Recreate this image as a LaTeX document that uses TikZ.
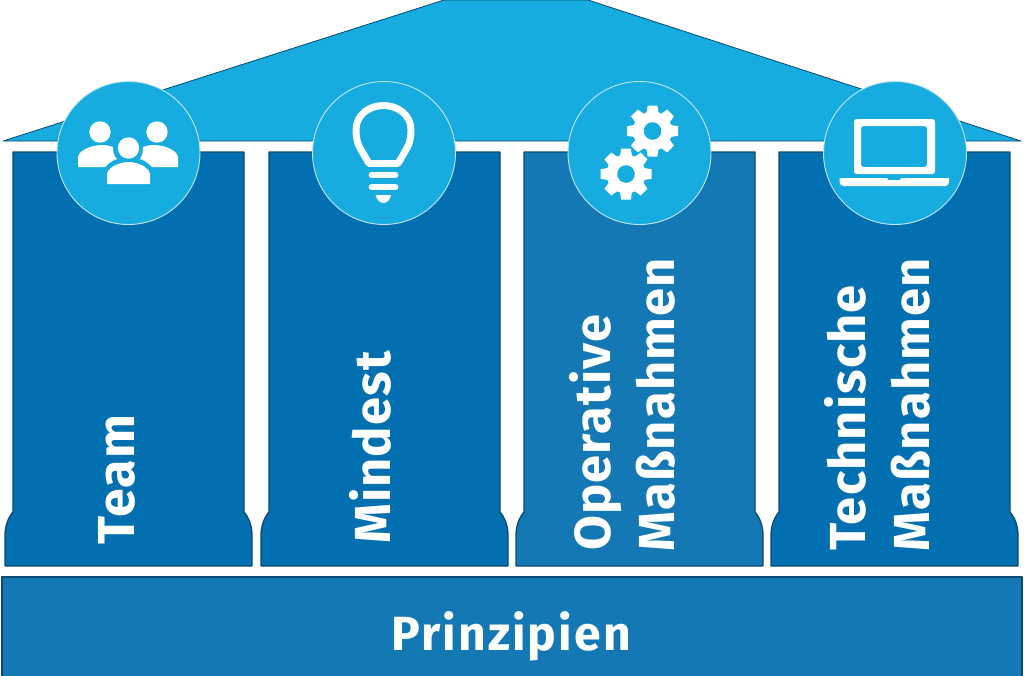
\documentclass[tikz,border=0pt]{standalone}
\usepackage{fontspec}
\setmainfont{Fira Sans}
\newfontfamily\labelfont[LetterSpace=2.2]{Fira Sans}
\newfontfamily\basefont[LetterSpace=4.5]{Fira Sans}
\definecolor{roofc}{HTML}{16ACDF}
\definecolor{colc}{HTML}{0270B0}
\definecolor{altc}{HTML}{1478B4}
\definecolor{edgec}{HTML}{0B4A70}
\definecolor{ringc}{HTML}{BFE4F3}
\tikzset{
  pillar/.style={fill=#1,draw=edgec,line width=1pt,line join=round},
  disc/.style={circle,fill=roofc,draw=ringc,line width=0.7pt,minimum size=143*0.75pt,inner sep=0pt},
  vlabel/.style={anchor=base west,rotate=90,inner sep=0pt,text=white,font=\labelfont\bfseries\fontsize{38}{38}\selectfont},
  icon/.style={fill=white,draw=none},
  iconline/.style={draw=white,line width=5.2pt,line cap=round,line join=round},
}
\newcommand{\pillarshape}[2]{% left x, fill
  \begin{scope}[shift={(#1,0)}]
  \draw[pillar=#2] (0,152) -- (231,152) -- (231,512) .. controls (236,518) and (239,526) .. (239,536) -- (239,566) -- (-8,566) -- (-8,536) .. controls (-8,526) and (-5,518) .. (0,512) -- cycle;
  \end{scope}}
\newcommand{\gearshape}[2]{% centre x,y
  \begin{scope}[shift={(#1,#2)}]
  \fill[white] (0,0) circle (19.5);
  \foreach \a in {0,45,...,315}{
    \fill[white,rotate=\a,line join=round] (-6.5,-15) -- (-4.8,-25.5) -- (4.8,-25.5) -- (6.5,-15) -- cycle;
  }
  \fill[roofc] (0,0) circle (8.8);
  \end{scope}}
\begin{document}
\begin{tikzpicture}[x=0.75pt,y=-0.75pt]
\useasboundingbox (0,0) rectangle (1024,675);
% roof
\draw[fill=roofc,draw=edgec,line width=0.6pt,line join=round] (3,141) -- (444,0) -- (588,0) -- (1021,141) -- cycle;
% pillars
\pillarshape{13}{colc}
\pillarshape{269}{colc}
\pillarshape{524}{altc}
\pillarshape{779}{colc}
% base
\draw[pillar=altc] (2,577) rectangle (1022,680);
\node[text=white,font=\basefont\bfseries\fontsize{36}{36}\selectfont,anchor=base,inner sep=0pt] (prinzipien) at (511,650) {Prinzipien};
% labels
\node[vlabel,font=\labelfont\bfseries\fontsize{39}{39}\selectfont] (team) at (134,544.5) {Team};
\node[vlabel] (mindest) at (390,544) {Mindest};
\node[vlabel] (operative) at (610,551) {Operative};
\node[vlabel] (massn1) at (674,552) {Maßnahmen};
\node[vlabel] (technische) at (865,551) {Technische};
\node[vlabel] (massn2) at (929,552) {Maßnahmen};
% discs
\node[disc] (d1) at (128.5,153) {};
\node[disc] (d2) at (384,153) {};
\node[disc] (d3) at (639.5,153) {};
\node[disc] (d4) at (895,153) {};
% people
\fill[icon] (100,132) circle (10.7);
\fill[icon] (157,132) circle (10.7);
\fill[icon] (128.5,148) circle (10.7);
\fill[icon] (78,167) -- (78,157) .. controls (79,150) and (92,145) .. (102,145) .. controls (106,145) and (110,146) .. (113,147) .. controls (113,153) and (114,156) .. (117,159) .. controls (111,161) and (108,164) .. (105,167) -- cycle;
\fill[icon] (178,167) -- (178,157) .. controls (177,150) and (164,145) .. (154,145) .. controls (150,145) and (146,146) .. (143,147) .. controls (143,153) and (142,156) .. (140,159) .. controls (146,161) and (149,164) .. (152,167) -- cycle;
\fill[icon] (107,184) -- (107,174) .. controls (108,167) and (120,162) .. (128.5,162) .. controls (137,162) and (149,167) .. (150,174) -- (150,184) -- cycle;
% bulb
\draw[iconline,line cap=butt] (369,163.5) -- (360,148) .. controls (357,143) and (356,136) .. (356,130) .. controls (356,115) and (369,105.5) .. (383.5,105.5) .. controls (398,105.5) and (411,115) .. (411,130) .. controls (411,136) and (410,143) .. (407,148) -- (398,163.5) -- cycle;
\draw[iconline] (372,175) -- (395,175);
\draw[iconline] (372,187) -- (395,187);
\fill[icon] (375.5,195) -- (391,195) .. controls (390,200) and (387,203) .. (383.5,203) .. controls (380,203) and (377,200) .. (375.5,195) -- cycle;
% gears
\gearshape{652.5}{131}
\gearshape{626}{174}
% laptop
\fill[icon,even odd rule,rounded corners=2pt] (854,119) -- (935,119) -- (935,174) -- (854,174) -- cycle (861,126) -- (861,167) -- (927,167) -- (927,126) -- cycle;
\fill[icon] (839.5,178) -- (887,178) -- (888,180) -- (900,180) -- (901,178) -- (949,178) -- (949,182) .. controls (949,185) and (947,186) .. (945,186) -- (844,186) .. controls (842,186) and (839.5,185) .. (839.5,182) -- cycle;
\end{tikzpicture}
\end{document}
